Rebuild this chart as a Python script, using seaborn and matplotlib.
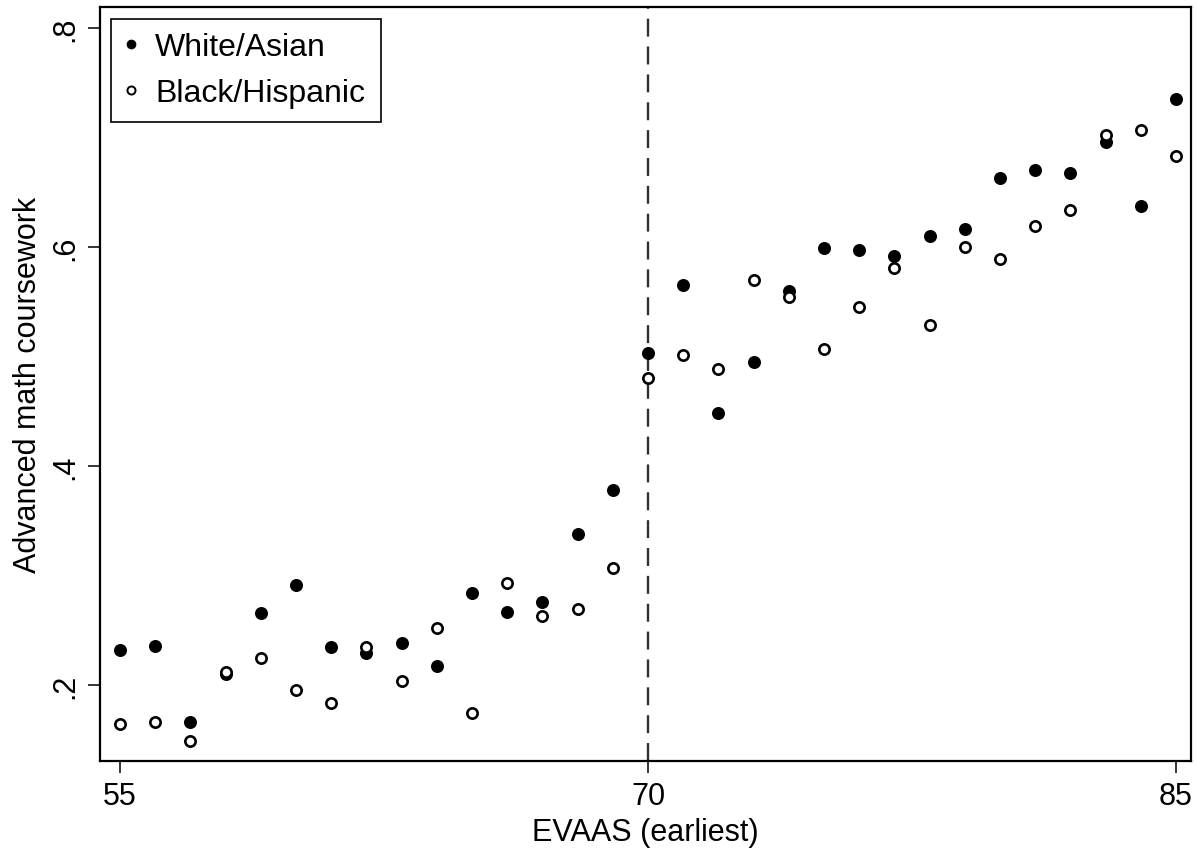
import matplotlib
matplotlib.use("Agg")
import matplotlib.pyplot as plt
from matplotlib.lines import Line2D
import pandas as pd
import seaborn as sns

# EVAAS score bins (x) and share taking advanced math
evaas = [55, 56, 57, 58, 59, 60, 61, 62, 63, 64, 65, 66, 67, 68, 69, 70,
         71, 72, 73, 74, 75, 76, 77, 78, 79, 80, 81, 82, 83, 84, 85]
white_asian = [0.232, 0.236, 0.166, 0.210, 0.266, 0.291, 0.235, 0.229, 0.238, 0.217,
               0.284, 0.267, 0.276, 0.338, 0.378, 0.503, 0.565, 0.448, 0.495, 0.560,
               0.599, 0.597, 0.592, 0.610, 0.616, 0.663, 0.670, 0.668, 0.696, 0.637, 0.735]
black_hispanic = [0.164, 0.166, 0.149, 0.212, 0.225, 0.195, 0.184, 0.235, 0.204, 0.252,
                  0.174, 0.293, 0.263, 0.269, 0.307, 0.480, 0.501, 0.489, 0.570, 0.554,
                  0.507, 0.545, 0.581, 0.529, 0.600, 0.589, 0.619, 0.634, 0.702, 0.707, 0.683]
cutoff = 70
y_ticks = [0.2, 0.4, 0.6, 0.8]
y_labels = [".2", ".4", ".6", ".8"]
x_ticks = [55, 70, 85]

df_w = pd.DataFrame({"evaas": evaas, "share": white_asian})
df_b = pd.DataFrame({"evaas": evaas, "share": black_hispanic})

sns.set_style("ticks")
plt.rcParams["font.family"] = ["Liberation Sans", "DejaVu Sans"]
plt.rcParams["text.color"] = "black"
plt.rcParams["axes.labelcolor"] = "black"

fig = plt.figure(figsize=(12.01, 8.53), dpi=100)
ax = fig.add_axes([0.0833, 0.1067, 0.9084, 0.884])

# cutoff line at 70
ax.axvline(cutoff, color="#303030", lw=1.7, ls=(0, (7.6, 4.2)), zorder=1)

sns.scatterplot(data=df_w, x="evaas", y="share", ax=ax, color="black",
                s=88, marker="o", edgecolor="black", linewidth=0, zorder=2)
sns.scatterplot(data=df_b, x="evaas", y="share", ax=ax, facecolor="white",
                s=55, marker="o", edgecolor="black", linewidth=1.9, zorder=3)

ax.set_xlim(54.43, 85.43)
ax.set_ylim(0.1306, 0.8192)
ax.set_xticks(x_ticks)
ax.set_yticks(y_ticks)
ax.set_yticklabels(y_labels, rotation=90, va="center")

for sp in ax.spines.values():
    sp.set_visible(True)
    sp.set_color("black")
    sp.set_linewidth(1.6)
ax.tick_params(axis="both", direction="out", length=8.5, width=1.1,
               color="black", labelsize=22, labelcolor="black", pad=6)

ax.set_xlabel("EVAAS (earliest)", fontsize=22, labelpad=4)
ax.set_ylabel("Advanced math coursework", fontsize=22, labelpad=5)

handles = [
    Line2D([], [], ls="none", marker="o", markersize=7.0, markerfacecolor="black",
           markeredgecolor="black", markeredgewidth=0),
    Line2D([], [], ls="none", marker="o", markersize=5.8, markerfacecolor="white",
           markeredgecolor="black", markeredgewidth=1.4),
]
leg = ax.legend(handles, ["White/Asian", "Black/Hispanic"], loc="upper left",
                bbox_to_anchor=(11 / 1091, 0, 270 / 1091, 1 - 12 / 754),
                mode="expand", borderaxespad=0,
                fontsize=23, frameon=True, fancybox=False, framealpha=1,
                edgecolor="black", handlelength=0.4, handletextpad=0.56,
                labelspacing=0.5, borderpad=0.42)
leg.get_frame().set_linewidth(1.2)

fig.savefig("out.png", dpi=100)
